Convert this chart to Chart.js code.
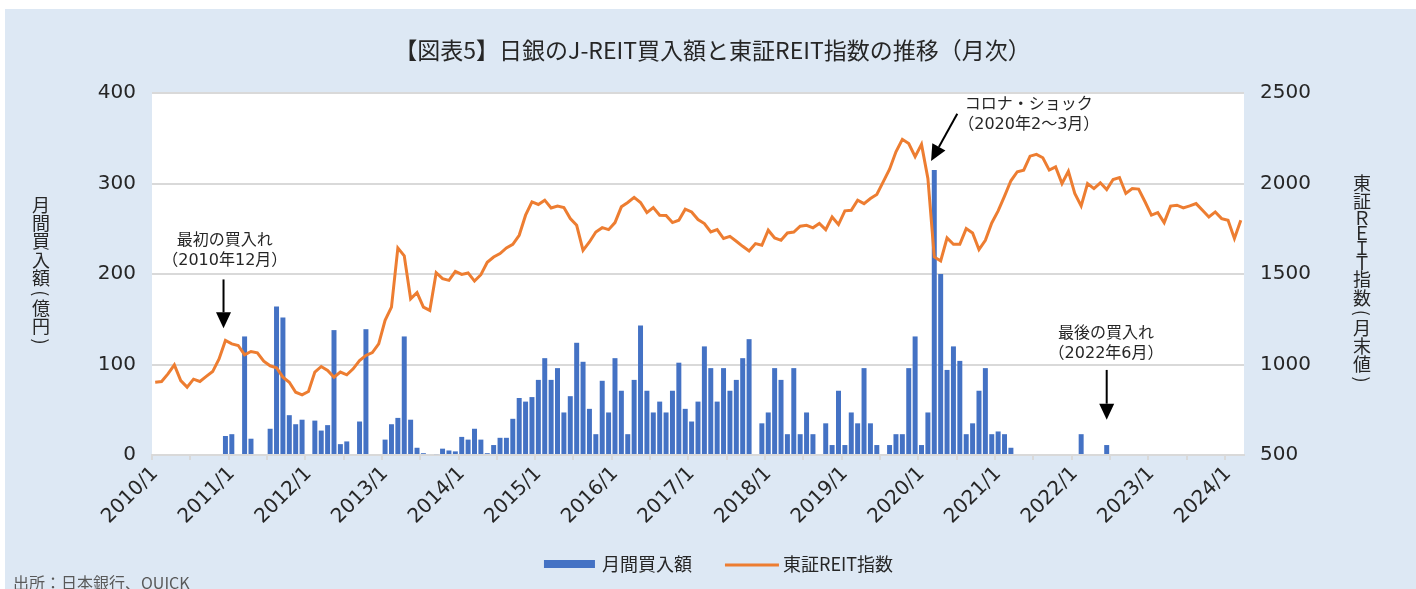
<!DOCTYPE html>
<html lang="ja">
<head>
  <meta charset="UTF-8">
  <title>日銀のJ-REIT買入額と東証REIT指数の推移</title>
  <script src="https://cdn.jsdelivr.net/npm/chart.js"></script>
  <style>
    body {
      margin: 0;
      background: #fff;
    }

    .panel {
      position: absolute;
      left: 5px;
      top: 9px;
      width: 1411px;
      height: 580px;
      background: #dde8f4;
    }

    canvas {
      display: block;
    }
  </style>
</head>
<body>

  <div class="panel">
    <canvas id="reitChart" width="1411" height="580"></canvas>
  </div>

  <script>
    // month labels 2010/1 .. 2024/3
    const years = [2010, 2011, 2012, 2013, 2014, 2015, 2016, 2017, 2018, 2019, 2020, 2021, 2022, 2023, 2024];
    const lastMonth = 3;
    const months = [];
    years.forEach(y => {
      for (let m = 1; m <= 12; m++) {
        if (y === 2024 && m > lastMonth) break;
        months.push(y + '/' + m);
      }
    });

    // 月間買入額 (億円), one row per year
    const purchases = [
      0, 0, 0, 0, 0, 0, 0, 0, 0, 0, 0, 21,
      23, 0, 131, 18, 0, 0, 29, 164, 152, 44, 34, 39,
      0, 38, 27, 33, 138, 12, 15, 0, 37, 139, 0, 0,
      17, 34, 41, 131, 39, 8, 2, 0, 1, 7, 5, 4,
      20, 17, 29, 17, 2, 11, 19, 19, 40, 63, 59, 64,
      83, 107, 83, 96, 47, 65, 124, 103, 51, 23, 82, 47,
      107, 71, 23, 83, 143, 71, 47, 59, 47, 71, 102, 51,
      37, 59, 120, 96, 59, 96, 71, 83, 107, 128, 0, 35,
      47, 96, 83, 23, 96, 23, 47, 23, 0, 35, 11, 71,
      11, 47, 35, 96, 35, 11, 0, 11, 23, 23, 96, 131,
      11, 47, 315, 200, 94, 120, 104, 23, 35, 71, 96, 23,
      26, 23, 8, 0, 0, 0, 0, 0, 0, 0, 0, 0,
      0, 23, 0, 0, 0, 11, 0, 0, 0, 0, 0, 0,
      0, 0, 0, 0, 0, 0, 0, 0, 0, 0, 0, 0,
      0, 0, 0
    ];

    // 東証REIT指数 (月末値)
    const reitIndex = [
      902, 906, 948, 998, 911, 875, 919, 906, 934, 961, 1031, 1133,
      1114, 1105, 1053, 1072, 1065, 1018, 993, 982, 930, 902, 847, 832,
      851, 958, 989, 967, 930, 958, 943, 976, 1022, 1050, 1066, 1114,
      1244, 1317, 1644, 1600, 1363, 1397, 1317, 1299, 1507, 1474, 1465, 1515,
      1498, 1506, 1461, 1496, 1565, 1594, 1613, 1644, 1664, 1714, 1825, 1898,
      1884, 1908, 1865, 1876, 1867, 1806, 1769, 1631, 1677, 1732, 1756, 1745,
      1784, 1871, 1895, 1923, 1895, 1839, 1867, 1825, 1823, 1784, 1797, 1858,
      1843, 1801, 1779, 1732, 1745, 1696, 1708, 1681, 1653, 1627, 1668, 1659,
      1742, 1699, 1686, 1727, 1732, 1764, 1769, 1755, 1779, 1745, 1815, 1773,
      1849, 1852, 1908, 1889, 1917, 1939, 2009, 2079, 2175, 2244, 2221, 2148,
      2216, 2028, 1594, 1572, 1699, 1664, 1664, 1751, 1727, 1635, 1686, 1782,
      1849, 1930, 2015, 2065, 2074, 2151, 2161, 2142, 2074, 2092, 2000, 2068,
      1945, 1876, 2000, 1972, 2004, 1967, 2022, 2033, 1945, 1972, 1969, 1899,
      1825, 1839, 1784, 1875, 1880, 1865, 1876, 1889, 1852, 1815, 1843, 1806,
      1797, 1696, 1797
    ];

    const buyTicks = [0, 100, 200, 300, 400];
    const indexTicks = [500, 1000, 1500, 2000, 2500];

    const titleText = '【図表5】日銀のJ-REIT買入額と東証REIT指数の推移（月次）';
    const leftTitle = '月間買入額(億円)';
    const rightTitle = '東証ＲＥＩＴ指数(月末値)';
    const sourceText = '出所：日本銀行、QUICK';

    // callouts, placed in data units (category index, 億円 axis)
    const callouts = [
      { lines: ['最初の買入れ', '（2010年12月）'], at: [10.9, 237, 215], from: [10.7, 194], to: [10.7, 140] },
      { lines: ['コロナ・ショック', '（2020年2～3月）'], at: [136.8, 387, 365], from: [125.6, 377], to: [121.5, 325] },
      { lines: ['最後の買入れ', '（2022年6月）'], at: [148.9, 134, 112], from: [149, 94], to: [149, 39] }
    ];

    const jpFont = "'Noto Sans CJK JP', 'Noto Sans', sans-serif";
    const numFont = "'DejaVu Sans', 'Noto Sans CJK JP', sans-serif";
    const textColor = '#262626';

    const plotBg = {
      id: 'plotBg',
      beforeDraw(chart) {
        const { ctx, chartArea: a } = chart;
        ctx.save();
        ctx.fillStyle = '#ffffff';
        ctx.fillRect(a.left, a.top, a.right - a.left, a.bottom - a.top);
        ctx.restore();
      }
    };

    function drawVertical(ctx, text, cx, firstCenter) {
      const sizeOf = ch => /[()（）]/.test(ch) ? 11.7 : (/[Ａ-Ｚ]/.test(ch) ? 15 : 18.3);
      let y = firstCenter;
      let prev = null;
      for (const ch of text) {
        const h = sizeOf(ch);
        if (prev !== null) y += (prev + h) / 2;
        prev = h;
        ctx.save();
        ctx.translate(cx, y);
        if (/[()]/.test(ch)) ctx.rotate(Math.PI / 2);
        ctx.textAlign = 'center';
        ctx.textBaseline = 'middle';
        ctx.fillText(ch, 0, 0);
        ctx.restore();
      }
    }

    function drawArrow(ctx, x1, y1, x2, y2) {
      const ang = Math.atan2(y2 - y1, x2 - x1);
      const headLen = 16, headHalf = 7.5;
      const bx = x2 - headLen * Math.cos(ang), by = y2 - headLen * Math.sin(ang);
      ctx.beginPath();
      ctx.moveTo(x1, y1);
      ctx.lineTo(bx, by);
      ctx.lineWidth = 2;
      ctx.strokeStyle = '#000';
      ctx.stroke();
      ctx.beginPath();
      ctx.moveTo(x2, y2);
      ctx.lineTo(bx + headHalf * Math.sin(ang), by - headHalf * Math.cos(ang));
      ctx.lineTo(bx - headHalf * Math.sin(ang), by + headHalf * Math.cos(ang));
      ctx.closePath();
      ctx.fillStyle = '#000';
      ctx.fill();
    }

    const overlay = {
      id: 'overlay',
      afterDraw(chart) {
        const { ctx, scales } = chart;
        const x = scales.x, y = scales.yBuy;
        ctx.save();

        // title
        ctx.fillStyle = textColor;
        ctx.font = '23px ' + jpFont;
        ctx.textAlign = 'center';
        ctx.textBaseline = 'middle';
        ctx.fillText(titleText, chart.width / 2 + 2, 41);

        // callouts
        ctx.font = '16px ' + numFont;
        callouts.forEach(c => {
          ctx.fillStyle = textColor;
          ctx.textAlign = 'center';
          ctx.textBaseline = 'middle';
          const tx = x.getPixelForValue(c.at[0]);
          ctx.fillText(c.lines[0], tx, y.getPixelForValue(c.at[1]));
          ctx.fillText(c.lines[1], tx, y.getPixelForValue(c.at[2]));
          drawArrow(ctx,
            x.getPixelForValue(c.from[0]), y.getPixelForValue(c.from[1]),
            x.getPixelForValue(c.to[0]), y.getPixelForValue(c.to[1]));
        });

        // axis titles, set vertically
        ctx.fillStyle = textColor;
        ctx.font = '18px ' + jpFont;
        drawVertical(ctx, leftTitle, 36, 196);
        drawVertical(ctx, rightTitle, 1357, 174);

        // legend
        const items = chart.data.datasets.map(ds => ({ ds, w: 0 }));
        ctx.font = '18px ' + jpFont;
        items.forEach(it => { it.w = 58 + ctx.measureText(it.ds.label).width; });
        const gap = 33;
        const total = items.reduce((s, it) => s + it.w, 0) + gap * (items.length - 1);
        let lx = chart.width / 2 + 8 - total / 2;
        const ly = 555;
        items.forEach(it => {
          if (it.ds.type === 'bar') {
            ctx.fillStyle = it.ds.backgroundColor;
            ctx.fillRect(lx, ly - 4, 51, 8);
          } else {
            ctx.beginPath();
            ctx.moveTo(lx, ly + 1);
            ctx.lineTo(lx + 54, ly + 1);
            ctx.strokeStyle = it.ds.borderColor;
            ctx.lineWidth = 3;
            ctx.stroke();
          }
          ctx.fillStyle = textColor;
          ctx.textAlign = 'left';
          ctx.textBaseline = 'middle';
          ctx.fillText(it.ds.label, lx + 58, ly);
          lx += it.w + gap;
        });

        // source
        ctx.fillStyle = '#595959';
        ctx.font = '16px ' + jpFont;
        ctx.textAlign = 'left';
        ctx.textBaseline = 'top';
        ctx.fillText(sourceText, 8, 566);

        ctx.restore();
      }
    };

    const ctx = document.getElementById('reitChart').getContext('2d');
    new Chart(ctx, {
      data: {
        labels: months,
        datasets: [
          {
            type: 'bar',
            label: '月間買入額',
            data: purchases,
            yAxisID: 'yBuy',
            backgroundColor: '#4472C4',
            barPercentage: 0.78,
            categoryPercentage: 1,
            order: 2
          },
          {
            type: 'line',
            label: '東証REIT指数',
            data: reitIndex,
            yAxisID: 'yIndex',
            borderColor: '#ED7D31',
            backgroundColor: '#ED7D31',
            borderWidth: 3,
            pointRadius: 0,
            tension: 0,
            order: 1
          }
        ]
      },
      options: {
        responsive: false,
        animation: false,
        layout: { padding: { top: 84, left: 0, right: 0, bottom: 0 } },
        plugins: {
          legend: { display: false },
          tooltip: { enabled: false }
        },
        scales: {
          x: {
            offset: true,
            grid: {
              offset: true,
              drawOnChartArea: false,
              tickLength: 5,
              lineWidth: 2,
              color: c => c.index % 6 === 0 ? '#d9d9d9' : 'rgba(0,0,0,0)'
            },
            border: { color: '#d9d9d9', width: 2 },
            ticks: {
              autoSkip: false,
              minRotation: 45,
              maxRotation: 45,
              padding: 2,
              color: textColor,
              font: { family: numFont, size: 20 },
              callback: (v, i) => months[i].endsWith('/1') ? months[i] : ''
            },
            afterFit: s => { s.height = 134; }
          },
          yBuy: {
            position: 'left',
            min: buyTicks[0],
            max: buyTicks[buyTicks.length - 1],
            afterBuildTicks: s => { s.ticks = buyTicks.map(v => ({ value: v })); },
            grid: { color: '#d9d9d9', lineWidth: 2, drawTicks: false },
            border: { display: false },
            ticks: { padding: 16, color: textColor, font: { family: numFont, size: 20 }, callback: v => String(v) },
            afterFit: s => { s.width = 147; }
          },
          yIndex: {
            position: 'right',
            min: indexTicks[0],
            max: indexTicks[indexTicks.length - 1],
            afterBuildTicks: s => { s.ticks = indexTicks.map(v => ({ value: v })); },
            grid: { display: false, drawTicks: false },
            border: { display: false },
            ticks: { padding: 16, color: textColor, font: { family: numFont, size: 20 }, callback: v => String(v) },
            afterFit: s => { s.width = 172; }
          }
        }
      },
      plugins: [plotBg, overlay]
    });
  </script>

</body>
</html>
